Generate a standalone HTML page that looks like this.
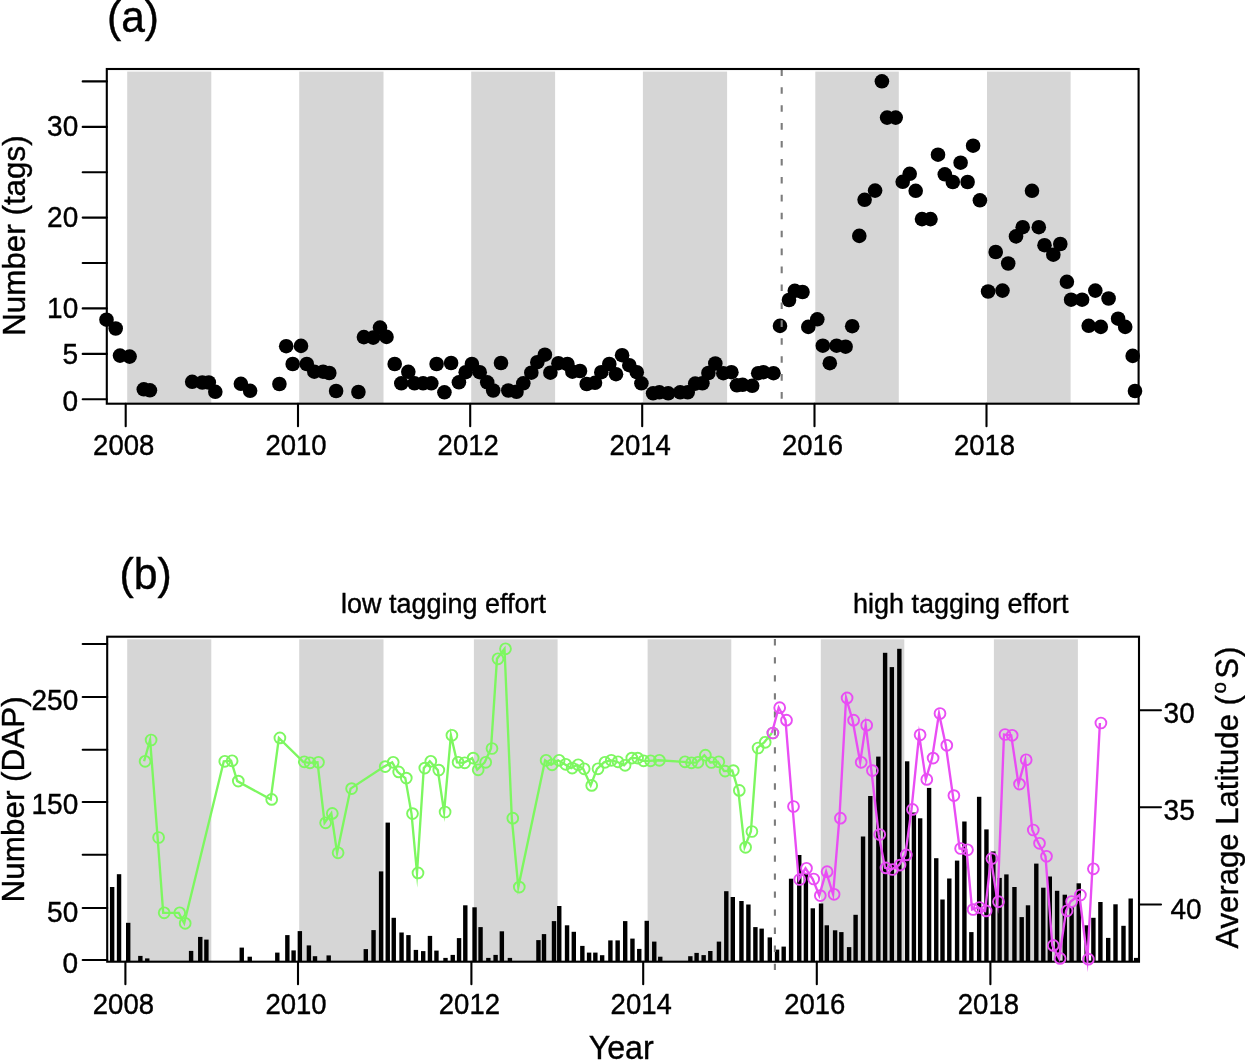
<!DOCTYPE html>
<html lang="en"><head><meta charset="utf-8"><title>Tags, DAP and average latitude by year</title>
<style>html,body{margin:0;padding:0;background:#fff}body{width:1245px;height:1060px;overflow:hidden}svg{display:block}text{font-family:"Liberation Sans", sans-serif;fill:#000;stroke:#000;stroke-width:0.4px}</style></head><body>
<svg width="1245" height="1060" viewBox="0 0 1245 1060">
<rect width="1245" height="1060" fill="#fff"/>
<g id="panel-a">
<rect x="127.2" y="71.6" width="84.1" height="331.5" fill="#d6d6d6"/>
<rect x="299.2" y="71.6" width="84.3" height="331.5" fill="#d6d6d6"/>
<rect x="471.2" y="71.6" width="83.9" height="331.5" fill="#d6d6d6"/>
<rect x="642.9" y="71.6" width="84.2" height="331.5" fill="#d6d6d6"/>
<rect x="815.3" y="71.6" width="83.5" height="331.5" fill="#d6d6d6"/>
<rect x="987" y="71.6" width="83.6" height="331.5" fill="#d6d6d6"/>
<g fill="#000">
<circle cx="106.5" cy="319.7" r="7.3"/>
<circle cx="115.7" cy="328.5" r="7.3"/>
<circle cx="120" cy="355.6" r="7.3"/>
<circle cx="129.6" cy="356.6" r="7.3"/>
<circle cx="143.8" cy="389.3" r="7.3"/>
<circle cx="149.9" cy="390.3" r="7.3"/>
<circle cx="192.2" cy="381.8" r="7.3"/>
<circle cx="202.3" cy="382.5" r="7.3"/>
<circle cx="208.8" cy="382.5" r="7.3"/>
<circle cx="215.3" cy="391.8" r="7.3"/>
<circle cx="240.9" cy="383.8" r="7.3"/>
<circle cx="250.1" cy="390.8" r="7.3"/>
<circle cx="279.4" cy="384" r="7.3"/>
<circle cx="286.2" cy="346.2" r="7.3"/>
<circle cx="292.7" cy="364" r="7.3"/>
<circle cx="301" cy="345.9" r="7.3"/>
<circle cx="306.8" cy="364" r="7.3"/>
<circle cx="314.3" cy="371.7" r="7.3"/>
<circle cx="323.1" cy="371.7" r="7.3"/>
<circle cx="329.3" cy="373" r="7.3"/>
<circle cx="336.1" cy="391" r="7.3"/>
<circle cx="358.4" cy="392" r="7.3"/>
<circle cx="363.9" cy="337.1" r="7.3"/>
<circle cx="373.2" cy="337.6" r="7.3"/>
<circle cx="380" cy="327.6" r="7.3"/>
<circle cx="386.5" cy="336.9" r="7.3"/>
<circle cx="394.7" cy="364" r="7.3"/>
<circle cx="401.3" cy="383.3" r="7.3"/>
<circle cx="408.3" cy="371.8" r="7.3"/>
<circle cx="414.5" cy="383.3" r="7.3"/>
<circle cx="423.1" cy="383.3" r="7.3"/>
<circle cx="431.3" cy="383.3" r="7.3"/>
<circle cx="436.6" cy="364" r="7.3"/>
<circle cx="444.4" cy="392.3" r="7.3"/>
<circle cx="451.1" cy="363" r="7.3"/>
<circle cx="458.9" cy="382.3" r="7.3"/>
<circle cx="465.7" cy="372.2" r="7.3"/>
<circle cx="471.9" cy="364" r="7.3"/>
<circle cx="479.7" cy="372.2" r="7.3"/>
<circle cx="487.2" cy="382.3" r="7.3"/>
<circle cx="493.2" cy="390.5" r="7.3"/>
<circle cx="501" cy="363" r="7.3"/>
<circle cx="508.3" cy="390.5" r="7.3"/>
<circle cx="516.5" cy="391.8" r="7.3"/>
<circle cx="523.3" cy="383.3" r="7.3"/>
<circle cx="531.3" cy="372.7" r="7.3"/>
<circle cx="537.3" cy="362.2" r="7.3"/>
<circle cx="544.9" cy="354.7" r="7.3"/>
<circle cx="550.4" cy="372.7" r="7.3"/>
<circle cx="558.4" cy="363.2" r="7.3"/>
<circle cx="567.4" cy="364" r="7.3"/>
<circle cx="572.4" cy="371.7" r="7.3"/>
<circle cx="580" cy="371" r="7.3"/>
<circle cx="586.7" cy="384" r="7.3"/>
<circle cx="595" cy="382.8" r="7.3"/>
<circle cx="601.3" cy="372.2" r="7.3"/>
<circle cx="609.3" cy="364" r="7.3"/>
<circle cx="616" cy="374.2" r="7.3"/>
<circle cx="622.1" cy="355.2" r="7.3"/>
<circle cx="629.3" cy="365.2" r="7.3"/>
<circle cx="636.8" cy="372.2" r="7.3"/>
<circle cx="641.4" cy="383.3" r="7.3"/>
<circle cx="653.1" cy="393.3" r="7.3"/>
<circle cx="659.4" cy="392.3" r="7.3"/>
<circle cx="668.2" cy="393.3" r="7.3"/>
<circle cx="680.2" cy="392.3" r="7.3"/>
<circle cx="687.7" cy="392.3" r="7.3"/>
<circle cx="695.2" cy="383.6" r="7.3"/>
<circle cx="702.4" cy="383.3" r="7.3"/>
<circle cx="708.4" cy="373" r="7.3"/>
<circle cx="715.3" cy="363.5" r="7.3"/>
<circle cx="723.3" cy="373.2" r="7.3"/>
<circle cx="731.4" cy="372.2" r="7.3"/>
<circle cx="736.9" cy="385.3" r="7.3"/>
<circle cx="742.6" cy="384.8" r="7.3"/>
<circle cx="752.2" cy="385.8" r="7.3"/>
<circle cx="758.2" cy="373.2" r="7.3"/>
<circle cx="763.4" cy="372.2" r="7.3"/>
<circle cx="773.5" cy="373.2" r="7.3"/>
<circle cx="780" cy="325.9" r="7.3"/>
<circle cx="789" cy="300" r="7.3"/>
<circle cx="794.8" cy="290.8" r="7.3"/>
<circle cx="802.5" cy="292" r="7.3"/>
<circle cx="808.3" cy="326.9" r="7.3"/>
<circle cx="817.3" cy="319.3" r="7.3"/>
<circle cx="822.8" cy="345.7" r="7.3"/>
<circle cx="829.8" cy="363.2" r="7.3"/>
<circle cx="836.6" cy="345.7" r="7.3"/>
<circle cx="845.6" cy="346.7" r="7.3"/>
<circle cx="852.2" cy="326.2" r="7.3"/>
<circle cx="859.3" cy="235.9" r="7.3"/>
<circle cx="864.6" cy="199.8" r="7.3"/>
<circle cx="875.1" cy="190.6" r="7.3"/>
<circle cx="881.9" cy="81.3" r="7.3"/>
<circle cx="887.1" cy="117.6" r="7.3"/>
<circle cx="895.7" cy="117.6" r="7.3"/>
<circle cx="902.7" cy="181.8" r="7.3"/>
<circle cx="909.7" cy="173.8" r="7.3"/>
<circle cx="915.7" cy="190.8" r="7.3"/>
<circle cx="922" cy="219.1" r="7.3"/>
<circle cx="930.5" cy="219.1" r="7.3"/>
<circle cx="938" cy="154.7" r="7.3"/>
<circle cx="944.8" cy="174.3" r="7.3"/>
<circle cx="952.8" cy="182" r="7.3"/>
<circle cx="960.6" cy="162.7" r="7.3"/>
<circle cx="967.6" cy="182" r="7.3"/>
<circle cx="973.1" cy="145.7" r="7.3"/>
<circle cx="979.9" cy="200.3" r="7.3"/>
<circle cx="988.1" cy="291.5" r="7.3"/>
<circle cx="995.7" cy="252" r="7.3"/>
<circle cx="1002.5" cy="290.6" r="7.3"/>
<circle cx="1008.2" cy="263.5" r="7.3"/>
<circle cx="1016" cy="236.4" r="7.3"/>
<circle cx="1022.7" cy="227.2" r="7.3"/>
<circle cx="1032" cy="190.8" r="7.3"/>
<circle cx="1038.8" cy="227.2" r="7.3"/>
<circle cx="1044.5" cy="245.2" r="7.3"/>
<circle cx="1053.3" cy="254.7" r="7.3"/>
<circle cx="1060.3" cy="244" r="7.3"/>
<circle cx="1066.9" cy="281.8" r="7.3"/>
<circle cx="1071.1" cy="299.7" r="7.3"/>
<circle cx="1082.1" cy="299.7" r="7.3"/>
<circle cx="1088.7" cy="325.8" r="7.3"/>
<circle cx="1095.3" cy="290.6" r="7.3"/>
<circle cx="1100.8" cy="326.9" r="7.3"/>
<circle cx="1108.6" cy="298.5" r="7.3"/>
<circle cx="1118.1" cy="318.7" r="7.3"/>
<circle cx="1125.2" cy="326.9" r="7.3"/>
<circle cx="1132.7" cy="355.9" r="7.3"/>
<circle cx="1135" cy="391" r="7.3"/>
</g>
<line x1="781.7" y1="69.3" x2="781.7" y2="403.7" stroke="#7c7c7c" stroke-width="2.1" stroke-dasharray="6.6 11.33" stroke-dashoffset="0"/>
<rect x="106.8" y="69" width="1031.8" height="334.7" fill="none" stroke="#000" stroke-width="2.1"/>
<g stroke="#000" stroke-width="2.1" stroke-linecap="round">
<line x1="82.7" y1="81.4" x2="106.8" y2="81.4"/>
<line x1="82.7" y1="126.9" x2="106.8" y2="126.9"/>
<line x1="82.7" y1="172.2" x2="106.8" y2="172.2"/>
<line x1="82.7" y1="217.6" x2="106.8" y2="217.6"/>
<line x1="82.7" y1="263" x2="106.8" y2="263"/>
<line x1="82.7" y1="308.4" x2="106.8" y2="308.4"/>
<line x1="82.7" y1="353.9" x2="106.8" y2="353.9"/>
<line x1="82.7" y1="399.2" x2="106.8" y2="399.2"/>
<line x1="125.7" y1="403.7" x2="125.7" y2="426.2"/>
<line x1="298" y1="403.7" x2="298" y2="426.2"/>
<line x1="470.2" y1="403.7" x2="470.2" y2="426.2"/>
<line x1="642.2" y1="403.7" x2="642.2" y2="426.2"/>
<line x1="814.5" y1="403.7" x2="814.5" y2="426.2"/>
<line x1="986.5" y1="403.7" x2="986.5" y2="426.2"/>
</g>
<g font-size="28.9" text-anchor="end">
<text x="78.2" y="136.4" textLength="31.1" lengthAdjust="spacingAndGlyphs">30</text>
<text x="78.2" y="227.1" textLength="31.1" lengthAdjust="spacingAndGlyphs">20</text>
<text x="78.2" y="317.9" textLength="31.1" lengthAdjust="spacingAndGlyphs">10</text>
<text x="78.2" y="363.5" textLength="15.6" lengthAdjust="spacingAndGlyphs">5</text>
<text x="78.2" y="410.6" textLength="15.6" lengthAdjust="spacingAndGlyphs">0</text>
</g>
<g font-size="28.6" text-anchor="middle">
<text x="123.7" y="454.7" textLength="61.2" lengthAdjust="spacingAndGlyphs">2008</text>
<text x="296" y="454.7" textLength="61.2" lengthAdjust="spacingAndGlyphs">2010</text>
<text x="468.2" y="454.7" textLength="61.2" lengthAdjust="spacingAndGlyphs">2012</text>
<text x="640.2" y="454.7" textLength="61.2" lengthAdjust="spacingAndGlyphs">2014</text>
<text x="812.5" y="454.7" textLength="61.2" lengthAdjust="spacingAndGlyphs">2016</text>
<text x="984.5" y="454.7" textLength="61.2" lengthAdjust="spacingAndGlyphs">2018</text>
</g>
<text x="107" y="32.4" font-size="44" textLength="52.0" lengthAdjust="spacingAndGlyphs">(a)</text>
<text transform="translate(24.5 235.6) rotate(-90)" font-size="31" text-anchor="middle" textLength="200.5" lengthAdjust="spacingAndGlyphs">Number (tags)</text>
</g>
<g id="panel-b">
<rect x="127.2" y="639.3" width="84.1" height="321.8" fill="#d6d6d6"/>
<rect x="299.2" y="639.3" width="84.3" height="321.8" fill="#d6d6d6"/>
<rect x="473.9" y="639.3" width="83.7" height="321.8" fill="#d6d6d6"/>
<rect x="647.6" y="639.3" width="83.7" height="321.8" fill="#d6d6d6"/>
<rect x="820.8" y="639.3" width="83.5" height="321.8" fill="#d6d6d6"/>
<rect x="993.9" y="639.3" width="84" height="321.8" fill="#d6d6d6"/>
<g fill="#000">
<rect x="109.95" y="887" width="4.4" height="74.7"/>
<rect x="116.85" y="874.2" width="4.4" height="87.5"/>
<rect x="126.00" y="922.8" width="4.4" height="38.9"/>
<rect x="138.15" y="955.9" width="4.4" height="5.8"/>
<rect x="145.05" y="958.4" width="4.4" height="3.3"/>
<rect x="188.90" y="950.9" width="4.4" height="10.8"/>
<rect x="198.05" y="936.9" width="4.4" height="24.8"/>
<rect x="204.20" y="939.6" width="4.4" height="22.1"/>
<rect x="239.55" y="947.6" width="4.4" height="14.1"/>
<rect x="247.55" y="956.7" width="4.4" height="5"/>
<rect x="275.10" y="952.6" width="4.4" height="9.1"/>
<rect x="285.15" y="935.1" width="4.4" height="26.6"/>
<rect x="291.40" y="950.4" width="4.4" height="11.3"/>
<rect x="297.65" y="931.1" width="4.4" height="30.6"/>
<rect x="306.70" y="945.4" width="4.4" height="16.3"/>
<rect x="312.80" y="956.2" width="4.4" height="5.5"/>
<rect x="326.50" y="955.4" width="4.4" height="6.3"/>
<rect x="363.60" y="949.1" width="4.4" height="12.6"/>
<rect x="371.35" y="930.1" width="4.4" height="31.6"/>
<rect x="378.90" y="871.4" width="4.4" height="90.3"/>
<rect x="385.55" y="822.6" width="4.4" height="139.1"/>
<rect x="391.55" y="917.8" width="4.4" height="43.9"/>
<rect x="399.35" y="932.5" width="4.4" height="29.2"/>
<rect x="406.25" y="935.1" width="4.4" height="26.6"/>
<rect x="413.70" y="949.9" width="4.4" height="11.8"/>
<rect x="421.00" y="951.1" width="4.4" height="10.6"/>
<rect x="427.75" y="935.9" width="4.4" height="25.8"/>
<rect x="434.25" y="950.6" width="4.4" height="11.1"/>
<rect x="443.30" y="957.9" width="4.4" height="3.8"/>
<rect x="450.55" y="954.9" width="4.4" height="6.8"/>
<rect x="456.85" y="938.1" width="4.4" height="23.6"/>
<rect x="463.10" y="905.3" width="4.4" height="56.4"/>
<rect x="472.35" y="907.3" width="4.4" height="54.4"/>
<rect x="478.35" y="927.1" width="4.4" height="34.6"/>
<rect x="486.15" y="957.9" width="4.4" height="3.8"/>
<rect x="493.40" y="954.9" width="4.4" height="6.8"/>
<rect x="499.65" y="931.3" width="4.4" height="30.4"/>
<rect x="507.70" y="957.9" width="4.4" height="3.8"/>
<rect x="536.25" y="940.1" width="4.4" height="21.6"/>
<rect x="541.80" y="934.1" width="4.4" height="27.6"/>
<rect x="551.80" y="921.1" width="4.4" height="40.6"/>
<rect x="557.05" y="906" width="4.4" height="55.7"/>
<rect x="564.85" y="925.3" width="4.4" height="36.4"/>
<rect x="571.60" y="931.8" width="4.4" height="29.9"/>
<rect x="580.15" y="945.9" width="4.4" height="15.8"/>
<rect x="586.90" y="952.6" width="4.4" height="9.1"/>
<rect x="593.15" y="952.6" width="4.4" height="9.1"/>
<rect x="599.95" y="955.2" width="4.4" height="6.5"/>
<rect x="608.20" y="940.4" width="4.4" height="21.3"/>
<rect x="615.45" y="940.4" width="4.4" height="21.3"/>
<rect x="623.00" y="921.1" width="4.4" height="40.6"/>
<rect x="630.25" y="938.6" width="4.4" height="23.1"/>
<rect x="637.05" y="948.9" width="4.4" height="12.8"/>
<rect x="644.55" y="920.8" width="4.4" height="40.9"/>
<rect x="652.05" y="941.6" width="4.4" height="20.1"/>
<rect x="658.05" y="956.7" width="4.4" height="5"/>
<rect x="688.15" y="956.2" width="4.4" height="5.5"/>
<rect x="694.40" y="952.9" width="4.4" height="8.8"/>
<rect x="701.45" y="955.1" width="4.4" height="6.6"/>
<rect x="708.10" y="951" width="4.4" height="10.7"/>
<rect x="716.75" y="941.6" width="4.4" height="20.1"/>
<rect x="724.10" y="891.2" width="4.4" height="70.5"/>
<rect x="730.60" y="897" width="4.4" height="64.7"/>
<rect x="739.25" y="901" width="4.4" height="60.7"/>
<rect x="746.20" y="904.5" width="4.4" height="57.2"/>
<rect x="753.20" y="927.1" width="4.4" height="34.6"/>
<rect x="759.45" y="928.6" width="4.4" height="33.1"/>
<rect x="767.60" y="937.4" width="4.4" height="24.3"/>
<rect x="774.85" y="949.6" width="4.4" height="12.1"/>
<rect x="781.50" y="946.6" width="4.4" height="15.1"/>
<rect x="788.90" y="878.7" width="4.4" height="83"/>
<rect x="797.05" y="855" width="4.4" height="106.7"/>
<rect x="803.70" y="874" width="4.4" height="87.7"/>
<rect x="810.60" y="908.3" width="4.4" height="53.4"/>
<rect x="818.85" y="903.5" width="4.4" height="58.2"/>
<rect x="824.60" y="925.3" width="4.4" height="36.4"/>
<rect x="832.90" y="930.3" width="4.4" height="31.4"/>
<rect x="839.15" y="932.1" width="4.4" height="29.6"/>
<rect x="846.90" y="947.1" width="4.4" height="14.6"/>
<rect x="853.40" y="914.8" width="4.4" height="46.9"/>
<rect x="860.85" y="836.5" width="4.4" height="125.2"/>
<rect x="868.10" y="796" width="4.4" height="165.7"/>
<rect x="876.15" y="756.6" width="4.4" height="205.1"/>
<rect x="882.90" y="652.8" width="4.4" height="308.9"/>
<rect x="889.65" y="667.1" width="4.4" height="294.6"/>
<rect x="897.15" y="648.8" width="4.4" height="312.9"/>
<rect x="904.95" y="761.3" width="4.4" height="200.4"/>
<rect x="911.70" y="812.5" width="4.4" height="149.2"/>
<rect x="917.95" y="818.3" width="4.4" height="143.4"/>
<rect x="926.90" y="787.9" width="4.4" height="173.8"/>
<rect x="934.05" y="858.2" width="4.4" height="103.5"/>
<rect x="940.30" y="899.5" width="4.4" height="62.2"/>
<rect x="947.10" y="878.5" width="4.4" height="83.2"/>
<rect x="954.90" y="860.6" width="4.4" height="101.1"/>
<rect x="962.20" y="821.5" width="4.4" height="140.2"/>
<rect x="969.15" y="932.1" width="4.4" height="29.6"/>
<rect x="976.95" y="796.8" width="4.4" height="164.9"/>
<rect x="984.25" y="829.4" width="4.4" height="132.3"/>
<rect x="991.15" y="851.4" width="4.4" height="110.3"/>
<rect x="997.40" y="877.9" width="4.4" height="83.8"/>
<rect x="1004.20" y="874.4" width="4.4" height="87.3"/>
<rect x="1012.25" y="887" width="4.4" height="74.7"/>
<rect x="1019.50" y="917.1" width="4.4" height="44.6"/>
<rect x="1025.80" y="905.3" width="4.4" height="56.4"/>
<rect x="1034.10" y="863.6" width="4.4" height="98.1"/>
<rect x="1041.10" y="887.7" width="4.4" height="74"/>
<rect x="1047.60" y="876.5" width="4.4" height="85.2"/>
<rect x="1054.90" y="890.8" width="4.4" height="70.9"/>
<rect x="1062.60" y="894.7" width="4.4" height="67"/>
<rect x="1069.40" y="907" width="4.4" height="54.7"/>
<rect x="1076.55" y="883.3" width="4.4" height="78.4"/>
<rect x="1084.45" y="925.3" width="4.4" height="36.4"/>
<rect x="1091.20" y="917.8" width="4.4" height="43.9"/>
<rect x="1098.20" y="902" width="4.4" height="59.7"/>
<rect x="1106.00" y="937.9" width="4.4" height="23.8"/>
<rect x="1113.30" y="904.3" width="4.4" height="57.4"/>
<rect x="1121.30" y="925.8" width="4.4" height="35.9"/>
<rect x="1128.50" y="898.5" width="4.4" height="63.2"/>
<rect x="1133.95" y="957.9" width="4.4" height="3.8"/>
</g>
<line x1="774.9" y1="639.1" x2="774.9" y2="970.5" stroke="#7c7c7c" stroke-width="2.1" stroke-dasharray="6.3 11.73" stroke-dashoffset="0"/>
<rect x="107.2" y="636.7" width="1031.8" height="325" fill="none" stroke="#000" stroke-width="2.1"/>
<polyline points="144.1,761.3 150.1,740 157.6,837.5 163.2,912.8 178.7,912.8 184.2,923.3 223.8,761.3 231.1,760.8 237.3,781.1 270.7,799.4 278.9,737.9 303.3,761.8 309,762.8 317.5,762.3 324.6,822.8 331.3,813.4 337.1,852.8 350.6,788.6 384.2,766.6 392.2,762.3 397.7,771.9 405.3,778.1 411.5,813.6 417,872.9 423.8,768.1 429.8,761.3 437.8,770.1 444.1,812 450.9,735.3 457.1,762.3 463.7,762.8 472.2,758.1 477.2,769.8 484.7,762.3 491,748.5 497,658.8 504.5,648.8 511.8,818.2 518.3,887.1 545.1,760.3 551.1,764.8 558.1,760.3 564.7,764.3 571.2,768.1 577.2,764.8 583.2,768.8 590.7,785.4 597,768.8 604,762.3 610.3,760.3 617,761.8 624.1,765.3 630.8,758.1 636.6,758.1 642.6,760.8 649.6,760.8 658.4,760.3 684,761.8 690.5,762.8 697,762.3 704.4,755.2 710.4,762.5 717.8,761.8 724.1,771.1 732.3,770.6 738.3,790.4 744.6,847.3 750.9,831.5 757.1,748 764.2,742.3 771.9,733" fill="none" stroke="#7df760" stroke-width="2.35" stroke-linejoin="miter" stroke-miterlimit="25"/>
<g fill="none" stroke="#7df760" stroke-width="1.9">
<circle cx="145.1" cy="761.3" r="5.4"/>
<circle cx="151.1" cy="740" r="5.4"/>
<circle cx="158.6" cy="837.5" r="5.4"/>
<circle cx="164.2" cy="912.8" r="5.4"/>
<circle cx="179.7" cy="912.8" r="5.4"/>
<circle cx="185.2" cy="923.3" r="5.4"/>
<circle cx="224.8" cy="761.3" r="5.4"/>
<circle cx="232.1" cy="760.8" r="5.4"/>
<circle cx="238.3" cy="781.1" r="5.4"/>
<circle cx="271.7" cy="799.4" r="5.4"/>
<circle cx="279.9" cy="737.9" r="5.4"/>
<circle cx="304.3" cy="761.8" r="5.4"/>
<circle cx="310" cy="762.8" r="5.4"/>
<circle cx="318.5" cy="762.3" r="5.4"/>
<circle cx="325.6" cy="822.8" r="5.4"/>
<circle cx="332.3" cy="813.4" r="5.4"/>
<circle cx="338.1" cy="852.8" r="5.4"/>
<circle cx="351.6" cy="788.6" r="5.4"/>
<circle cx="385.2" cy="766.6" r="5.4"/>
<circle cx="393.2" cy="762.3" r="5.4"/>
<circle cx="398.7" cy="771.9" r="5.4"/>
<circle cx="406.3" cy="778.1" r="5.4"/>
<circle cx="412.5" cy="813.6" r="5.4"/>
<circle cx="418" cy="872.9" r="5.4"/>
<circle cx="424.8" cy="768.1" r="5.4"/>
<circle cx="430.8" cy="761.3" r="5.4"/>
<circle cx="438.8" cy="770.1" r="5.4"/>
<circle cx="445.1" cy="812" r="5.4"/>
<circle cx="451.9" cy="735.3" r="5.4"/>
<circle cx="458.1" cy="762.3" r="5.4"/>
<circle cx="464.7" cy="762.8" r="5.4"/>
<circle cx="473.2" cy="758.1" r="5.4"/>
<circle cx="478.2" cy="769.8" r="5.4"/>
<circle cx="485.7" cy="762.3" r="5.4"/>
<circle cx="492" cy="748.5" r="5.4"/>
<circle cx="498" cy="658.8" r="5.4"/>
<circle cx="505.5" cy="648.8" r="5.4"/>
<circle cx="512.8" cy="818.2" r="5.4"/>
<circle cx="519.3" cy="887.1" r="5.4"/>
<circle cx="546.1" cy="760.3" r="5.4"/>
<circle cx="552.1" cy="764.8" r="5.4"/>
<circle cx="559.1" cy="760.3" r="5.4"/>
<circle cx="565.7" cy="764.3" r="5.4"/>
<circle cx="572.2" cy="768.1" r="5.4"/>
<circle cx="578.2" cy="764.8" r="5.4"/>
<circle cx="584.2" cy="768.8" r="5.4"/>
<circle cx="591.7" cy="785.4" r="5.4"/>
<circle cx="598" cy="768.8" r="5.4"/>
<circle cx="605" cy="762.3" r="5.4"/>
<circle cx="611.3" cy="760.3" r="5.4"/>
<circle cx="618" cy="761.8" r="5.4"/>
<circle cx="625.1" cy="765.3" r="5.4"/>
<circle cx="631.8" cy="758.1" r="5.4"/>
<circle cx="637.6" cy="758.1" r="5.4"/>
<circle cx="643.6" cy="760.8" r="5.4"/>
<circle cx="650.6" cy="760.8" r="5.4"/>
<circle cx="659.4" cy="760.3" r="5.4"/>
<circle cx="685" cy="761.8" r="5.4"/>
<circle cx="691.5" cy="762.8" r="5.4"/>
<circle cx="698" cy="762.3" r="5.4"/>
<circle cx="705.4" cy="755.2" r="5.4"/>
<circle cx="711.4" cy="762.5" r="5.4"/>
<circle cx="718.8" cy="761.8" r="5.4"/>
<circle cx="725.1" cy="771.1" r="5.4"/>
<circle cx="733.3" cy="770.6" r="5.4"/>
<circle cx="739.3" cy="790.4" r="5.4"/>
<circle cx="745.6" cy="847.3" r="5.4"/>
<circle cx="751.9" cy="831.5" r="5.4"/>
<circle cx="758.1" cy="748" r="5.4"/>
<circle cx="765.2" cy="742.3" r="5.4"/>
<circle cx="772.9" cy="733" r="5.4"/>
</g>
<polyline points="771.9,733 778.7,707.7 785.5,720.2 792.5,806.5 798.7,879.5 805.5,868.3 812.7,879 819.3,895.6 826.1,871.7 833.1,894.3 839.4,818.2 846.1,697.9 852.6,720.2 860.2,762.3 865.7,725.2 871.4,770.6 878.7,834.5 885,867.9 891.5,869.5 899,865.1 905.3,854.9 911.5,809.4 919.1,734.8 925.8,779.4 932.1,758.1 939,713.5 945.8,745.3 952.9,795.6 959.6,848.5 966.5,849.8 972.1,909.5 978.4,907.5 985.1,910.9 990.9,858.6 997.5,901.7 1004,734.5 1011.2,735.3 1018.5,784.1 1025.2,759.8 1032.3,830 1038.5,843.3 1045.5,856.3 1052.3,945.4 1059.1,958.4 1066.1,910.8 1070.6,901.5 1079.4,895 1087.4,959.2 1092.4,868.8 1099.9,723" fill="none" stroke="#e94df4" stroke-width="2.35" stroke-linejoin="miter" stroke-miterlimit="25"/>
<g fill="none" stroke="#e94df4" stroke-width="1.9">
<circle cx="772.9" cy="733" r="5.4"/>
<circle cx="779.7" cy="707.7" r="5.4"/>
<circle cx="786.5" cy="720.2" r="5.4"/>
<circle cx="793.5" cy="806.5" r="5.4"/>
<circle cx="799.7" cy="879.5" r="5.4"/>
<circle cx="806.5" cy="868.3" r="5.4"/>
<circle cx="813.7" cy="879" r="5.4"/>
<circle cx="820.3" cy="895.6" r="5.4"/>
<circle cx="827.1" cy="871.7" r="5.4"/>
<circle cx="834.1" cy="894.3" r="5.4"/>
<circle cx="840.4" cy="818.2" r="5.4"/>
<circle cx="847.1" cy="697.9" r="5.4"/>
<circle cx="853.6" cy="720.2" r="5.4"/>
<circle cx="861.2" cy="762.3" r="5.4"/>
<circle cx="866.7" cy="725.2" r="5.4"/>
<circle cx="872.4" cy="770.6" r="5.4"/>
<circle cx="879.7" cy="834.5" r="5.4"/>
<circle cx="886" cy="867.9" r="5.4"/>
<circle cx="892.5" cy="869.5" r="5.4"/>
<circle cx="900" cy="865.1" r="5.4"/>
<circle cx="906.3" cy="854.9" r="5.4"/>
<circle cx="912.5" cy="809.4" r="5.4"/>
<circle cx="920.1" cy="734.8" r="5.4"/>
<circle cx="926.8" cy="779.4" r="5.4"/>
<circle cx="933.1" cy="758.1" r="5.4"/>
<circle cx="940" cy="713.5" r="5.4"/>
<circle cx="946.8" cy="745.3" r="5.4"/>
<circle cx="953.9" cy="795.6" r="5.4"/>
<circle cx="960.6" cy="848.5" r="5.4"/>
<circle cx="967.5" cy="849.8" r="5.4"/>
<circle cx="973.1" cy="909.5" r="5.4"/>
<circle cx="979.4" cy="907.5" r="5.4"/>
<circle cx="986.1" cy="910.9" r="5.4"/>
<circle cx="991.9" cy="858.6" r="5.4"/>
<circle cx="998.5" cy="901.7" r="5.4"/>
<circle cx="1005" cy="734.5" r="5.4"/>
<circle cx="1012.2" cy="735.3" r="5.4"/>
<circle cx="1019.5" cy="784.1" r="5.4"/>
<circle cx="1026.2" cy="759.8" r="5.4"/>
<circle cx="1033.3" cy="830" r="5.4"/>
<circle cx="1039.5" cy="843.3" r="5.4"/>
<circle cx="1046.5" cy="856.3" r="5.4"/>
<circle cx="1053.3" cy="945.4" r="5.4"/>
<circle cx="1060.1" cy="958.4" r="5.4"/>
<circle cx="1067.1" cy="910.8" r="5.4"/>
<circle cx="1071.6" cy="901.5" r="5.4"/>
<circle cx="1080.4" cy="895" r="5.4"/>
<circle cx="1088.4" cy="959.2" r="5.4"/>
<circle cx="1093.4" cy="868.8" r="5.4"/>
<circle cx="1100.9" cy="723" r="5.4"/>
</g>
<g stroke="#000" stroke-width="2.1" stroke-linecap="round">
<line x1="82.7" y1="644" x2="107.2" y2="644"/>
<line x1="82.7" y1="697" x2="107.2" y2="697"/>
<line x1="82.7" y1="749.7" x2="107.2" y2="749.7"/>
<line x1="82.7" y1="802" x2="107.2" y2="802"/>
<line x1="82.7" y1="854.7" x2="107.2" y2="854.7"/>
<line x1="82.7" y1="908" x2="107.2" y2="908"/>
<line x1="82.7" y1="960" x2="107.2" y2="960"/>
<line x1="125.4" y1="961.7" x2="125.4" y2="984.2"/>
<line x1="298" y1="961.7" x2="298" y2="984.2"/>
<line x1="471.4" y1="961.7" x2="471.4" y2="984.2"/>
<line x1="643.2" y1="961.7" x2="643.2" y2="984.2"/>
<line x1="816.8" y1="961.7" x2="816.8" y2="984.2"/>
<line x1="990.4" y1="961.7" x2="990.4" y2="984.2"/>
<line x1="1139" y1="710.3" x2="1161" y2="710.3"/>
<line x1="1139" y1="807.2" x2="1161" y2="807.2"/>
<line x1="1139" y1="904.5" x2="1161" y2="904.5"/>
</g>
<g font-size="28.9" text-anchor="end">
<text x="78.2" y="709.9" textLength="46.7" lengthAdjust="spacingAndGlyphs">250</text>
<text x="78.2" y="813.7" textLength="46.7" lengthAdjust="spacingAndGlyphs">150</text>
<text x="78.2" y="921.5" textLength="31.1" lengthAdjust="spacingAndGlyphs">50</text>
<text x="78.2" y="972.5" textLength="15.6" lengthAdjust="spacingAndGlyphs">0</text>
</g>
<g font-size="28.9">
<text x="1163.6" y="723.3" textLength="31.1" lengthAdjust="spacingAndGlyphs">30</text>
<text x="1163.6" y="820.2" textLength="31.1" lengthAdjust="spacingAndGlyphs">35</text>
<text x="1170.5" y="919.4" textLength="31.1" lengthAdjust="spacingAndGlyphs">40</text>
</g>
<g font-size="28.6" text-anchor="middle">
<text x="123.4" y="1013.6" textLength="61.2" lengthAdjust="spacingAndGlyphs">2008</text>
<text x="296" y="1013.6" textLength="61.2" lengthAdjust="spacingAndGlyphs">2010</text>
<text x="469.4" y="1013.6" textLength="61.2" lengthAdjust="spacingAndGlyphs">2012</text>
<text x="641.2" y="1013.6" textLength="61.2" lengthAdjust="spacingAndGlyphs">2014</text>
<text x="814.8" y="1013.6" textLength="61.2" lengthAdjust="spacingAndGlyphs">2016</text>
<text x="988.4" y="1013.6" textLength="61.2" lengthAdjust="spacingAndGlyphs">2018</text>
</g>
<text x="119.5" y="589.1" font-size="44" textLength="52.2" lengthAdjust="spacingAndGlyphs">(b)</text>
<text x="341" y="612.9" font-size="27" textLength="205.0" lengthAdjust="spacingAndGlyphs">low tagging effort</text>
<text x="853" y="612.9" font-size="27" textLength="215.5" lengthAdjust="spacingAndGlyphs">high tagging effort</text>
<text transform="translate(24.3 799.4) rotate(-90)" font-size="31" text-anchor="middle" textLength="206" lengthAdjust="spacingAndGlyphs">Number (DAP)</text>
<text transform="translate(1238.3 948.6) rotate(-90)" font-size="31.1">Average Latitude (<tspan font-size="20.5" dx="1.6" dy="-11.9">o</tspan><tspan dx="3.2" dy="11.9">S</tspan><tspan dx="1.2">)</tspan></text>
<text x="621.2" y="1058.8" font-size="32.5" text-anchor="middle" textLength="65" lengthAdjust="spacingAndGlyphs">Year</text>
</g>
</svg></body></html>
